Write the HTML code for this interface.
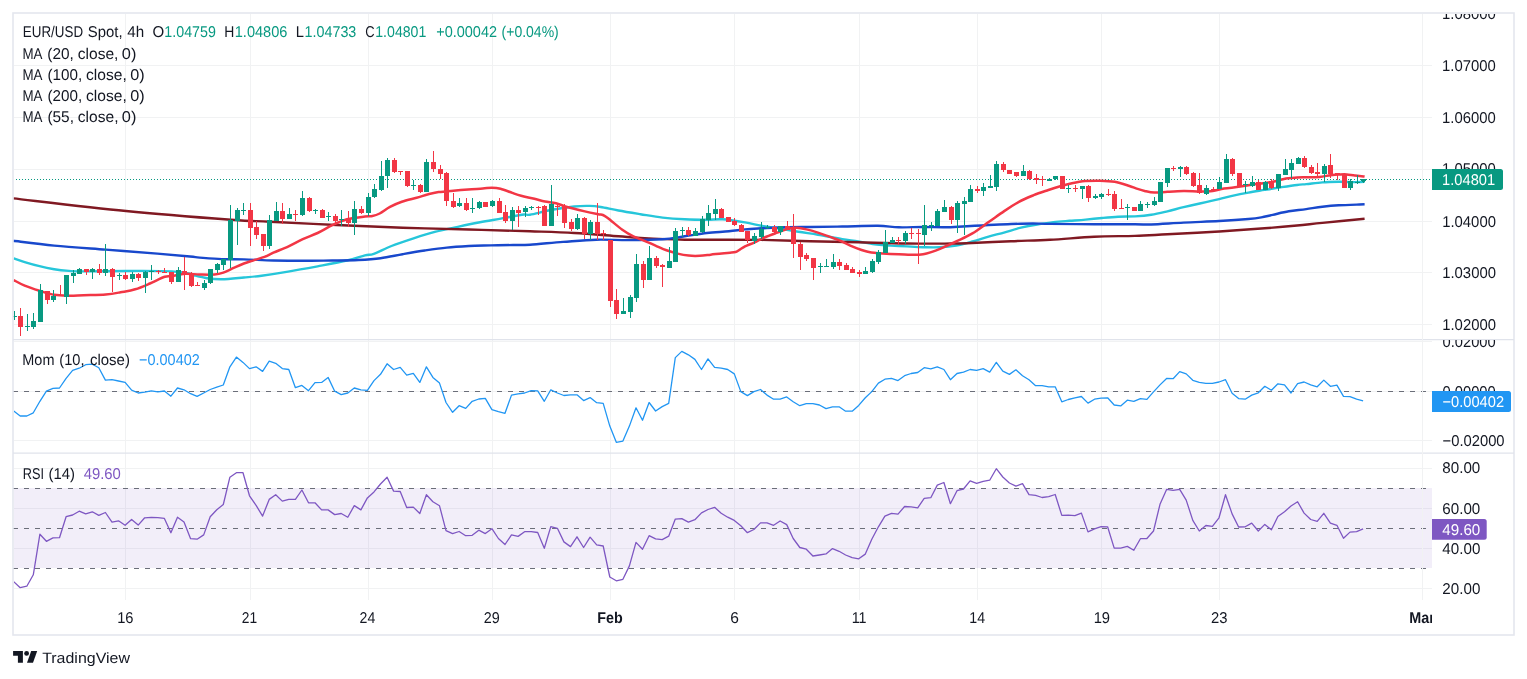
<!DOCTYPE html>
<html><head><meta charset="utf-8"><title>EUR/USD Spot 4h</title>
<style>html,body{margin:0;padding:0;background:#fff;}body{width:1527px;height:679px;overflow:hidden;position:relative;font-family:"Liberation Sans",sans-serif;}</style>
</head><body>
<svg width="1527" height="679" viewBox="0 0 1527 679" style="position:absolute;left:0;top:0;display:block;will-change:transform;opacity:0.9999">
<defs>
<clipPath id="cpMain"><rect x="13" y="14" width="1409.5" height="325.5"/></clipPath>
<clipPath id="cpMom"><rect x="14" y="340" width="1408.5" height="113"/></clipPath>
<clipPath id="cpRsi"><rect x="14" y="453.5" width="1408.5" height="146"/></clipPath>
<clipPath id="cpAx1"><rect x="1423" y="14" width="91" height="325.5"/></clipPath>
<clipPath id="cpAx2"><rect x="1423" y="340" width="91" height="113"/></clipPath>
<clipPath id="cpAx3"><rect x="1423" y="453.5" width="91" height="146"/></clipPath>
<clipPath id="cpTime"><rect x="14" y="600" width="1418" height="34"/></clipPath>
</defs>
<rect x="0" y="0" width="1527" height="679" fill="#ffffff"/>
<g stroke="#F1F2F3" stroke-width="1" shape-rendering="crispEdges">
<line x1="125.5" y1="14" x2="125.5" y2="599.5"/>
<line x1="250.5" y1="14" x2="250.5" y2="599.5"/>
<line x1="368.5" y1="14" x2="368.5" y2="599.5"/>
<line x1="492.5" y1="14" x2="492.5" y2="599.5"/>
<line x1="610.5" y1="14" x2="610.5" y2="599.5"/>
<line x1="734.5" y1="14" x2="734.5" y2="599.5"/>
<line x1="859.5" y1="14" x2="859.5" y2="599.5"/>
<line x1="977.5" y1="14" x2="977.5" y2="599.5"/>
<line x1="1101.5" y1="14" x2="1101.5" y2="599.5"/>
<line x1="1219.5" y1="14" x2="1219.5" y2="599.5"/>
<line x1="1422.5" y1="14" x2="1422.5" y2="599.5"/>
<line x1="14" y1="65.5" x2="1432" y2="65.5"/>
<line x1="14" y1="117.5" x2="1432" y2="117.5"/>
<line x1="14" y1="169.5" x2="1432" y2="169.5"/>
<line x1="14" y1="221.5" x2="1432" y2="221.5"/>
<line x1="14" y1="272.5" x2="1432" y2="272.5"/>
<line x1="14" y1="324.5" x2="1432" y2="324.5"/>
<line x1="14" y1="341.5" x2="1432" y2="341.5"/>
<line x1="14" y1="391.5" x2="1432" y2="391.5"/>
<line x1="14" y1="440.5" x2="1432" y2="440.5"/>
<line x1="14" y1="468.5" x2="1432" y2="468.5"/>
<line x1="14" y1="508.5" x2="1432" y2="508.5"/>
<line x1="14" y1="548.5" x2="1432" y2="548.5"/>
<line x1="14" y1="588.5" x2="1432" y2="588.5"/>
</g>
<rect x="14" y="488" width="1418" height="80" fill="#7E57C2" fill-opacity="0.1"/>
<g stroke="#6B6E79" stroke-width="1" stroke-dasharray="5 6" shape-rendering="crispEdges">
<line x1="13" y1="488.5" x2="1432" y2="488.5"/>
<line x1="13" y1="528.5" x2="1432" y2="528.5"/>
<line x1="13" y1="568.5" x2="1432" y2="568.5"/>
<line x1="13" y1="391.5" x2="1432" y2="391.5"/>
</g>
<line x1="16" y1="179.5" x2="1432" y2="179.5" stroke="#089981" stroke-width="1" stroke-dasharray="1 2"/>
<g clip-path="url(#cpMain)">
<path d="M13.7,258.4C15.5,259.0 20.4,260.8 24.7,262.1C29.0,263.4 34.6,265.0 39.5,266.2C44.4,267.4 49.3,268.4 54.2,269.2C59.1,270.0 64.0,270.5 68.9,270.9C73.8,271.3 77.6,271.3 83.7,271.4C89.8,271.4 95.9,271.3 105.7,271.2C115.5,271.1 131.5,270.9 142.6,270.9C153.7,270.9 164.1,270.9 172.0,271.4C179.9,271.9 186.4,273.1 190.0,273.8C193.6,274.5 191.0,274.6 193.8,275.3C196.7,276.0 202.4,277.5 207.1,278.2C211.8,278.9 215.7,279.4 221.8,279.3C227.9,279.2 237.3,278.1 243.9,277.5C250.5,276.9 254.2,276.7 261.6,275.7C269.0,274.7 278.8,273.2 288.1,271.6C297.4,270.1 307.8,268.2 317.6,266.4C327.4,264.5 339.1,262.3 347.0,260.5C354.9,258.7 360.5,256.5 365.0,255.4C369.5,254.3 369.4,255.4 373.8,253.8C378.2,252.2 384.9,248.6 391.5,246.0C398.1,243.4 406.2,240.7 413.6,238.3C421.0,235.9 428.3,233.6 435.7,231.7C443.1,229.8 450.4,228.4 457.8,226.8C465.2,225.2 472.6,223.6 480.0,222.2C487.4,220.8 494.7,219.7 502.0,218.4C509.3,217.1 519.3,215.1 524.0,214.5C528.7,213.9 525.3,215.5 530.0,214.7C534.7,213.9 544.6,211.2 552.0,209.8C559.4,208.4 567.9,207.2 574.2,206.5C580.5,205.8 585.3,205.8 589.7,205.9C594.1,206.0 595.9,206.2 600.7,207.0C605.5,207.8 611.8,209.3 618.4,210.5C625.0,211.7 633.1,213.0 640.5,214.2C647.9,215.4 655.2,216.8 662.6,217.6C670.0,218.4 677.3,218.9 684.7,219.3C692.1,219.7 700.5,219.8 706.8,219.8C713.0,219.8 715.8,218.9 722.2,219.3C728.6,219.7 738.5,221.3 745.0,222.4C751.5,223.5 755.8,224.8 761.2,225.8C766.6,226.8 771.2,227.3 777.4,228.3C783.6,229.3 791.6,230.7 798.4,231.8C805.1,232.9 810.6,233.5 817.9,234.7C825.2,235.9 835.5,238.0 842.2,239.1C849.0,240.2 853.0,240.6 858.4,241.5C863.8,242.4 869.2,243.6 874.6,244.3C880.0,245.0 885.3,245.2 890.7,245.6C896.1,245.9 901.6,246.1 907.0,246.4C912.4,246.7 917.6,247.1 923.1,247.2C928.6,247.3 934.5,247.5 940.0,247.2C945.5,246.9 950.8,246.4 956.2,245.5C961.6,244.6 967.0,243.0 972.4,241.5C977.8,240.0 983.2,238.1 988.6,236.6C994.0,235.1 999.4,233.8 1004.8,232.3C1010.2,230.8 1015.6,229.0 1021.0,227.7C1026.4,226.4 1031.8,225.4 1037.2,224.5C1042.6,223.6 1048.0,222.7 1053.4,222.1C1058.8,221.5 1064.2,221.2 1069.6,220.8C1075.0,220.4 1080.3,220.1 1085.7,219.6C1091.1,219.1 1096.6,218.5 1102.0,218.0C1107.4,217.5 1112.6,217.0 1118.1,216.7C1123.6,216.4 1129.5,216.7 1135.0,216.4C1140.5,216.1 1145.8,215.7 1151.2,214.8C1156.6,214.0 1162.0,212.6 1167.4,211.3C1172.8,210.0 1178.2,208.5 1183.6,207.2C1189.0,205.9 1193.9,204.8 1199.8,203.5C1205.7,202.2 1213.8,200.4 1219.2,199.1C1224.6,197.8 1227.3,197.0 1232.2,195.9C1237.1,194.8 1243.0,193.6 1248.4,192.6C1253.8,191.6 1259.2,190.8 1264.6,189.9C1270.0,189.0 1275.3,188.1 1280.7,187.3C1286.1,186.5 1292.8,185.5 1297.0,185.0C1301.2,184.5 1302.0,184.5 1306.2,184.1C1310.4,183.7 1317.0,182.8 1322.4,182.4C1327.8,182.0 1333.2,181.9 1338.6,181.8C1344.0,181.8 1350.5,182.1 1354.8,182.1C1359.1,182.1 1363.0,181.9 1364.6,181.8" fill="none" stroke="#26C6DA" stroke-width="2.4" stroke-linejoin="round" stroke-linecap="butt"/>
<path d="M13.3,198.4C32.1,200.5 89.7,207.4 126.0,211.0C162.3,214.6 207.0,218.0 231.0,219.8C255.0,221.6 252.4,220.8 270.0,221.7C287.6,222.6 314.2,224.0 336.3,225.0C358.4,226.0 380.5,226.9 402.6,227.7C424.7,228.4 447.7,228.9 468.9,229.5C490.1,230.1 512.5,230.7 530.0,231.3C547.5,231.9 559.5,232.2 574.2,233.0C588.9,233.8 607.4,235.5 618.4,236.3C629.4,237.1 629.5,237.3 640.5,237.9C651.5,238.5 670.0,239.4 684.7,239.7C699.4,240.0 716.1,239.7 728.9,239.7C741.6,239.7 747.7,239.7 761.2,239.9C774.7,240.2 793.6,240.8 809.8,241.2C826.0,241.6 842.2,241.9 858.4,242.3C874.6,242.7 892.6,243.3 907.0,243.5C921.4,243.7 935.0,243.7 945.0,243.6C955.0,243.5 955.8,243.6 966.8,243.2C977.8,242.8 997.1,241.8 1011.0,241.2C1024.9,240.6 1036.1,240.6 1050.0,239.8C1063.9,239.1 1080.0,237.3 1094.2,236.7C1108.4,236.0 1122.8,236.3 1135.0,235.9C1147.2,235.5 1153.4,235.0 1167.4,234.3C1181.4,233.6 1203.0,232.5 1219.2,231.5C1235.4,230.5 1251.6,229.3 1264.6,228.3C1277.6,227.3 1287.4,226.4 1297.0,225.5C1306.6,224.6 1311.1,224.0 1322.4,222.9C1333.7,221.8 1357.6,219.5 1364.6,218.8" fill="none" stroke="#801922" stroke-width="2.4" stroke-linejoin="round" stroke-linecap="butt"/>
<path d="M13.3,240.8C20.1,241.6 38.8,244.1 54.2,245.6C69.6,247.1 88.5,248.3 105.7,249.6C122.9,250.9 143.2,252.4 157.3,253.6C171.4,254.8 182.9,255.8 190.0,256.5C197.1,257.2 194.4,257.2 199.7,257.6C205.0,258.0 214.4,258.8 221.8,259.1C229.2,259.4 235.3,259.2 243.9,259.4C252.5,259.6 263.6,260.3 273.4,260.5C283.2,260.7 293.0,260.8 302.8,260.8C312.6,260.8 323.0,260.6 332.3,260.5C341.6,260.4 350.4,260.4 358.4,260.0C366.4,259.6 373.1,259.2 380.5,258.2C387.9,257.2 395.2,255.5 402.6,254.2C410.0,252.9 417.3,251.6 424.7,250.5C432.1,249.4 439.4,248.3 446.8,247.6C454.2,246.8 461.5,246.4 468.9,246.0C476.3,245.6 483.6,245.6 491.0,245.4C498.4,245.2 506.5,245.1 513.0,245.0C519.5,244.9 521.6,245.2 530.0,244.7C538.4,244.2 552.1,242.7 563.1,241.9C574.1,241.1 585.2,240.0 596.3,239.7C607.3,239.4 618.3,240.2 629.4,240.1C640.5,240.0 653.4,239.8 662.6,239.2C671.8,238.6 677.3,237.3 684.7,236.3C692.1,235.3 699.4,233.8 706.8,233.0C714.2,232.2 722.5,231.9 728.9,231.3C735.3,230.7 739.6,229.9 745.0,229.4C750.4,228.9 754.5,228.7 761.2,228.3C768.0,228.0 777.4,227.5 785.5,227.3C793.6,227.1 800.3,227.1 809.8,227.0C819.2,226.9 830.9,226.7 842.2,226.5C853.5,226.3 868.4,225.7 877.8,225.8C887.2,225.9 891.2,227.1 898.8,227.3C906.3,227.5 915.4,227.0 923.1,227.0C930.8,227.0 937.7,227.4 945.0,227.3C952.3,227.2 955.8,226.8 966.8,226.2C977.8,225.6 1000.0,224.4 1011.0,224.0C1022.0,223.6 1026.5,223.5 1033.0,223.5C1039.5,223.5 1039.8,223.8 1050.0,223.9C1060.2,224.0 1080.0,224.2 1094.2,224.3C1108.4,224.4 1125.5,224.2 1135.0,224.2C1144.5,224.2 1143.1,224.8 1151.2,224.5C1159.3,224.2 1172.3,223.2 1183.6,222.6C1194.9,222.0 1208.4,221.6 1219.2,221.0C1230.0,220.4 1241.4,219.6 1248.4,219.0C1255.4,218.4 1257.2,218.1 1261.3,217.4C1265.3,216.7 1268.1,215.8 1272.7,214.8C1277.3,213.8 1283.2,212.2 1288.8,211.3C1294.4,210.4 1300.6,209.9 1306.2,209.1C1311.8,208.3 1317.0,207.3 1322.4,206.7C1327.8,206.1 1331.6,205.7 1338.6,205.3C1345.6,204.9 1360.3,204.5 1364.6,204.3" fill="none" stroke="#1848CC" stroke-width="2.4" stroke-linejoin="round" stroke-linecap="butt"/>
<path d="M13.7,280.1C15.5,281.0 20.4,283.9 24.7,285.7C29.0,287.5 34.6,289.3 39.5,290.8C44.4,292.3 49.3,294.0 54.2,294.8C59.1,295.6 64.0,295.6 68.9,295.7C73.8,295.8 77.6,295.4 83.7,295.2C89.8,295.0 99.6,295.0 105.7,294.5C111.8,294.0 115.6,293.2 120.5,292.3C125.4,291.4 130.3,290.8 135.2,289.3C140.1,287.8 145.0,285.6 149.9,283.5C154.8,281.4 161.0,278.0 164.7,276.8C168.4,275.6 168.6,276.6 172.0,276.1C175.4,275.6 180.4,274.1 185.0,273.8C189.6,273.5 194.8,274.4 199.7,274.5C204.6,274.6 210.6,274.8 214.5,274.5C218.4,274.2 220.1,273.7 223.3,272.6C226.5,271.5 230.2,269.4 233.6,267.9C237.0,266.4 240.5,264.8 243.9,263.5C247.3,262.2 250.8,261.2 254.2,260.1C257.6,259.0 261.3,258.1 264.5,256.9C267.7,255.7 269.5,254.4 273.4,252.7C277.3,251.0 283.2,248.8 288.1,246.6C293.0,244.3 297.9,241.5 302.8,239.2C307.7,236.9 312.7,235.3 317.6,233.0C322.5,230.7 327.4,227.5 332.3,225.2C337.2,222.9 341.6,220.8 347.0,219.3C352.4,217.9 360.8,217.0 365.0,216.5C369.2,216.0 369.9,216.6 372.4,216.1C374.8,215.6 376.8,215.0 379.7,213.5C382.6,212.0 386.3,208.9 390.0,206.9C393.7,204.9 397.4,203.2 401.8,201.7C406.2,200.2 412.2,198.9 416.6,197.7C421.0,196.5 424.6,195.2 428.3,194.3C432.0,193.4 434.4,192.7 438.6,192.1C442.8,191.5 448.5,191.1 453.4,190.7C458.3,190.3 463.2,189.9 468.1,189.5C473.0,189.1 478.9,188.8 482.8,188.5C486.7,188.2 488.8,187.7 491.7,187.7C494.6,187.7 497.1,187.8 500.5,188.7C503.9,189.6 508.9,191.7 512.3,192.9C515.7,194.1 517.4,194.8 521.1,195.8C524.8,196.8 530.4,197.8 534.4,198.8C538.4,199.8 541.4,200.9 545.0,201.6C548.6,202.3 552.3,202.3 556.0,203.2C559.7,204.1 562.3,205.6 567.1,207.0C571.9,208.4 579.6,210.2 584.8,211.4C589.9,212.6 595.0,213.6 598.0,214.2C601.0,214.8 601.4,214.4 602.9,215.0C604.4,215.6 605.6,216.5 607.0,217.5C608.4,218.5 608.8,218.9 611.3,220.9C613.8,222.9 618.6,227.1 622.3,229.7C626.0,232.3 629.7,234.6 633.4,236.4C637.1,238.2 640.7,239.3 644.4,240.8C648.1,242.3 651.8,244.0 655.5,245.6C659.2,247.2 662.8,249.0 666.5,250.3C670.2,251.6 673.9,252.7 677.6,253.6C681.3,254.5 684.9,255.2 688.6,255.6C692.3,256.0 696.0,256.0 699.7,255.8C703.4,255.7 707.0,255.1 710.7,254.7C714.4,254.3 718.6,253.7 721.8,253.4C725.0,253.1 727.7,252.9 730.0,252.7C732.3,252.5 733.9,252.5 735.5,252.0C737.1,251.5 737.9,250.7 739.5,249.8C741.1,248.9 742.5,247.7 745.0,246.4C747.5,245.2 751.5,243.8 754.7,242.3C757.9,240.8 760.6,239.1 764.4,237.5C768.2,235.9 773.3,234.1 777.4,232.6C781.5,231.1 785.5,229.4 788.7,228.6C791.9,227.8 793.8,227.7 796.8,227.8C799.8,227.9 803.0,228.6 806.5,229.4C810.0,230.2 814.1,231.4 817.9,232.6C821.7,233.8 825.7,235.4 829.2,236.7C832.7,238.0 835.4,238.7 838.9,240.2C842.4,241.7 846.5,244.0 850.3,245.6C854.1,247.2 858.1,248.8 861.6,250.0C865.1,251.2 867.8,252.0 871.3,252.6C874.8,253.2 878.1,253.1 882.7,253.4C887.3,253.7 893.4,254.0 898.8,254.2C904.2,254.4 911.0,254.8 915.0,254.8C919.0,254.8 920.4,254.6 923.1,254.2C925.8,253.8 928.4,253.0 931.2,252.1C934.0,251.2 935.8,250.6 940.0,248.8C944.2,247.0 950.8,244.1 956.2,241.5C961.6,238.9 967.0,236.6 972.4,233.4C977.8,230.2 983.3,225.8 988.6,222.1C993.9,218.4 999.2,214.5 1004.2,211.1C1009.2,207.7 1014.0,204.6 1018.9,201.9C1023.8,199.2 1028.8,197.2 1033.7,195.2C1038.6,193.2 1044.0,191.5 1048.4,190.0C1052.8,188.5 1056.3,187.4 1060.2,186.3C1064.1,185.2 1067.7,184.2 1071.9,183.3C1076.1,182.4 1080.5,181.5 1085.2,181.1C1089.9,180.7 1095.0,180.6 1099.9,180.7C1104.8,180.8 1109.8,180.9 1114.7,181.8C1119.6,182.7 1125.9,184.9 1129.4,186.0C1133.0,187.1 1133.5,187.6 1136.0,188.4C1138.5,189.2 1141.6,190.3 1144.7,191.0C1147.8,191.7 1150.6,192.5 1154.4,192.6C1158.2,192.7 1162.5,192.1 1167.4,191.8C1172.3,191.5 1178.2,191.1 1183.6,191.0C1189.0,190.9 1194.9,191.5 1199.8,191.5C1204.7,191.5 1208.7,191.5 1212.7,191.0C1216.8,190.5 1219.5,189.3 1224.1,188.6C1228.7,187.9 1234.9,187.4 1240.3,186.6C1245.7,185.8 1251.1,184.8 1256.5,184.0C1261.9,183.2 1268.1,182.7 1272.7,181.8C1277.3,181.0 1280.0,179.6 1284.0,178.9C1288.0,178.2 1293.3,177.9 1297.0,177.6C1300.7,177.3 1302.5,177.4 1306.2,177.3C1309.9,177.2 1315.2,177.2 1319.2,176.9C1323.2,176.6 1327.3,175.6 1330.5,175.2C1333.7,174.8 1335.9,174.6 1338.6,174.5C1341.3,174.4 1344.0,174.2 1346.7,174.4C1349.4,174.6 1351.8,175.1 1354.8,175.4C1357.8,175.8 1363.0,176.3 1364.6,176.5" fill="none" stroke="#F23645" stroke-width="2.5" stroke-linejoin="round" stroke-linecap="butt"/>
<rect x="14" y="311" width="1" height="9" fill="#089981"/>
<rect x="12" y="316" width="5" height="1" fill="#089981"/>
<rect x="20" y="308" width="1" height="28" fill="#F23645"/>
<rect x="18" y="316" width="5" height="11" fill="#F23645"/>
<rect x="27" y="314" width="1" height="17" fill="#089981"/>
<rect x="25" y="326" width="5" height="1" fill="#089981"/>
<rect x="33" y="313" width="1" height="16" fill="#089981"/>
<rect x="31" y="321" width="5" height="6" fill="#089981"/>
<rect x="40" y="284" width="1" height="38" fill="#089981"/>
<rect x="38" y="290" width="5" height="32" fill="#089981"/>
<rect x="47" y="291" width="1" height="13" fill="#F23645"/>
<rect x="45" y="291" width="5" height="9" fill="#F23645"/>
<rect x="53" y="290" width="1" height="12" fill="#089981"/>
<rect x="51" y="296" width="5" height="4" fill="#089981"/>
<rect x="60" y="285" width="1" height="11" fill="#F23645"/>
<rect x="58" y="295" width="5" height="1" fill="#F23645"/>
<rect x="66" y="275" width="1" height="29" fill="#089981"/>
<rect x="64" y="275" width="5" height="22" fill="#089981"/>
<rect x="73" y="270" width="1" height="13" fill="#089981"/>
<rect x="71" y="273" width="5" height="3" fill="#089981"/>
<rect x="79" y="268" width="1" height="6" fill="#089981"/>
<rect x="77" y="269" width="5" height="5" fill="#089981"/>
<rect x="86" y="269" width="1" height="6" fill="#F23645"/>
<rect x="84" y="269" width="5" height="3" fill="#F23645"/>
<rect x="92" y="268" width="1" height="11" fill="#089981"/>
<rect x="90" y="269" width="5" height="3" fill="#089981"/>
<rect x="99" y="264" width="1" height="11" fill="#F23645"/>
<rect x="97" y="269" width="5" height="4" fill="#F23645"/>
<rect x="105" y="244" width="1" height="32" fill="#089981"/>
<rect x="103" y="269" width="5" height="4" fill="#089981"/>
<rect x="112" y="268" width="1" height="24" fill="#F23645"/>
<rect x="110" y="269" width="5" height="8" fill="#F23645"/>
<rect x="119" y="273" width="1" height="7" fill="#089981"/>
<rect x="117" y="275" width="5" height="1" fill="#089981"/>
<rect x="125" y="272" width="1" height="8" fill="#F23645"/>
<rect x="123" y="275" width="5" height="4" fill="#F23645"/>
<rect x="132" y="272" width="1" height="10" fill="#089981"/>
<rect x="130" y="274" width="5" height="5" fill="#089981"/>
<rect x="138" y="273" width="1" height="8" fill="#F23645"/>
<rect x="136" y="274" width="5" height="4" fill="#F23645"/>
<rect x="145" y="271" width="1" height="22" fill="#089981"/>
<rect x="143" y="272" width="5" height="6" fill="#089981"/>
<rect x="151" y="265" width="1" height="15" fill="#089981"/>
<rect x="149" y="271" width="5" height="1" fill="#089981"/>
<rect x="158" y="270" width="1" height="4" fill="#F23645"/>
<rect x="156" y="271" width="5" height="1" fill="#F23645"/>
<rect x="164" y="268" width="1" height="5" fill="#F23645"/>
<rect x="162" y="272" width="5" height="1" fill="#F23645"/>
<rect x="171" y="272" width="1" height="12" fill="#F23645"/>
<rect x="169" y="272" width="5" height="10" fill="#F23645"/>
<rect x="178" y="267" width="1" height="15" fill="#089981"/>
<rect x="176" y="270" width="5" height="12" fill="#089981"/>
<rect x="184" y="257" width="1" height="33" fill="#F23645"/>
<rect x="182" y="271" width="5" height="4" fill="#F23645"/>
<rect x="191" y="272" width="1" height="15" fill="#F23645"/>
<rect x="189" y="273" width="5" height="13" fill="#F23645"/>
<rect x="197" y="282" width="1" height="4" fill="#F23645"/>
<rect x="195" y="285" width="5" height="1" fill="#F23645"/>
<rect x="204" y="280" width="1" height="10" fill="#089981"/>
<rect x="202" y="283" width="5" height="5" fill="#089981"/>
<rect x="210" y="269" width="1" height="15" fill="#089981"/>
<rect x="208" y="269" width="5" height="14" fill="#089981"/>
<rect x="217" y="263" width="1" height="10" fill="#089981"/>
<rect x="215" y="264" width="5" height="6" fill="#089981"/>
<rect x="223" y="259" width="1" height="11" fill="#089981"/>
<rect x="221" y="259" width="5" height="6" fill="#089981"/>
<rect x="230" y="205" width="1" height="63" fill="#089981"/>
<rect x="228" y="220" width="5" height="40" fill="#089981"/>
<rect x="237" y="208" width="1" height="37" fill="#089981"/>
<rect x="235" y="210" width="5" height="11" fill="#089981"/>
<rect x="243" y="203" width="1" height="12" fill="#089981"/>
<rect x="241" y="210" width="5" height="1" fill="#089981"/>
<rect x="250" y="203" width="1" height="43" fill="#F23645"/>
<rect x="248" y="210" width="5" height="18" fill="#F23645"/>
<rect x="256" y="221" width="1" height="18" fill="#F23645"/>
<rect x="254" y="227" width="5" height="8" fill="#F23645"/>
<rect x="263" y="234" width="1" height="17" fill="#F23645"/>
<rect x="261" y="234" width="5" height="12" fill="#F23645"/>
<rect x="269" y="215" width="1" height="34" fill="#089981"/>
<rect x="267" y="220" width="5" height="26" fill="#089981"/>
<rect x="276" y="202" width="1" height="19" fill="#089981"/>
<rect x="274" y="211" width="5" height="10" fill="#089981"/>
<rect x="282" y="203" width="1" height="21" fill="#F23645"/>
<rect x="280" y="211" width="5" height="8" fill="#F23645"/>
<rect x="289" y="208" width="1" height="11" fill="#089981"/>
<rect x="287" y="214" width="5" height="5" fill="#089981"/>
<rect x="295" y="210" width="1" height="11" fill="#F23645"/>
<rect x="293" y="214" width="5" height="1" fill="#F23645"/>
<rect x="302" y="191" width="1" height="25" fill="#089981"/>
<rect x="300" y="198" width="5" height="17" fill="#089981"/>
<rect x="309" y="197" width="1" height="15" fill="#F23645"/>
<rect x="307" y="198" width="5" height="13" fill="#F23645"/>
<rect x="315" y="209" width="1" height="5" fill="#089981"/>
<rect x="313" y="210" width="5" height="1" fill="#089981"/>
<rect x="322" y="209" width="1" height="9" fill="#F23645"/>
<rect x="320" y="210" width="5" height="8" fill="#F23645"/>
<rect x="328" y="212" width="1" height="9" fill="#089981"/>
<rect x="326" y="216" width="5" height="1" fill="#089981"/>
<rect x="335" y="214" width="1" height="11" fill="#F23645"/>
<rect x="333" y="216" width="5" height="5" fill="#F23645"/>
<rect x="341" y="210" width="1" height="16" fill="#089981"/>
<rect x="339" y="219" width="5" height="1" fill="#089981"/>
<rect x="348" y="211" width="1" height="16" fill="#F23645"/>
<rect x="346" y="219" width="5" height="4" fill="#F23645"/>
<rect x="354" y="201" width="1" height="34" fill="#089981"/>
<rect x="352" y="209" width="5" height="14" fill="#089981"/>
<rect x="361" y="206" width="1" height="8" fill="#F23645"/>
<rect x="359" y="209" width="5" height="4" fill="#F23645"/>
<rect x="368" y="193" width="1" height="23" fill="#089981"/>
<rect x="366" y="197" width="5" height="16" fill="#089981"/>
<rect x="374" y="184" width="1" height="14" fill="#089981"/>
<rect x="372" y="189" width="5" height="8" fill="#089981"/>
<rect x="381" y="161" width="1" height="30" fill="#089981"/>
<rect x="379" y="176" width="5" height="14" fill="#089981"/>
<rect x="387" y="158" width="1" height="30" fill="#089981"/>
<rect x="385" y="160" width="5" height="16" fill="#089981"/>
<rect x="394" y="158" width="1" height="15" fill="#F23645"/>
<rect x="392" y="160" width="5" height="12" fill="#F23645"/>
<rect x="400" y="171" width="1" height="4" fill="#F23645"/>
<rect x="398" y="171" width="5" height="1" fill="#F23645"/>
<rect x="407" y="171" width="1" height="16" fill="#F23645"/>
<rect x="405" y="171" width="5" height="15" fill="#F23645"/>
<rect x="413" y="180" width="1" height="10" fill="#089981"/>
<rect x="411" y="185" width="5" height="1" fill="#089981"/>
<rect x="420" y="184" width="1" height="9" fill="#F23645"/>
<rect x="418" y="185" width="5" height="7" fill="#F23645"/>
<rect x="426" y="159" width="1" height="33" fill="#089981"/>
<rect x="424" y="162" width="5" height="30" fill="#089981"/>
<rect x="433" y="151" width="1" height="21" fill="#F23645"/>
<rect x="431" y="162" width="5" height="7" fill="#F23645"/>
<rect x="440" y="165" width="1" height="14" fill="#F23645"/>
<rect x="438" y="169" width="5" height="5" fill="#F23645"/>
<rect x="446" y="172" width="1" height="34" fill="#F23645"/>
<rect x="444" y="173" width="5" height="28" fill="#F23645"/>
<rect x="453" y="193" width="1" height="15" fill="#F23645"/>
<rect x="451" y="201" width="5" height="6" fill="#F23645"/>
<rect x="459" y="198" width="1" height="9" fill="#089981"/>
<rect x="457" y="203" width="5" height="3" fill="#089981"/>
<rect x="466" y="198" width="1" height="13" fill="#F23645"/>
<rect x="464" y="203" width="5" height="7" fill="#F23645"/>
<rect x="472" y="198" width="1" height="15" fill="#089981"/>
<rect x="470" y="208" width="5" height="1" fill="#089981"/>
<rect x="479" y="201" width="1" height="8" fill="#089981"/>
<rect x="477" y="202" width="5" height="6" fill="#089981"/>
<rect x="485" y="202" width="1" height="5" fill="#F23645"/>
<rect x="483" y="202" width="5" height="5" fill="#F23645"/>
<rect x="492" y="200" width="1" height="7" fill="#089981"/>
<rect x="490" y="201" width="5" height="5" fill="#089981"/>
<rect x="499" y="198" width="1" height="15" fill="#F23645"/>
<rect x="497" y="201" width="5" height="12" fill="#F23645"/>
<rect x="505" y="205" width="1" height="18" fill="#F23645"/>
<rect x="503" y="212" width="5" height="9" fill="#F23645"/>
<rect x="512" y="207" width="1" height="23" fill="#089981"/>
<rect x="510" y="210" width="5" height="11" fill="#089981"/>
<rect x="518" y="206" width="1" height="21" fill="#F23645"/>
<rect x="516" y="210" width="5" height="3" fill="#F23645"/>
<rect x="525" y="206" width="1" height="11" fill="#089981"/>
<rect x="523" y="208" width="5" height="4" fill="#089981"/>
<rect x="531" y="206" width="1" height="4" fill="#089981"/>
<rect x="529" y="207" width="5" height="1" fill="#089981"/>
<rect x="538" y="206" width="1" height="9" fill="#F23645"/>
<rect x="536" y="207" width="5" height="1" fill="#F23645"/>
<rect x="544" y="205" width="1" height="21" fill="#F23645"/>
<rect x="542" y="206" width="5" height="20" fill="#F23645"/>
<rect x="551" y="185" width="1" height="41" fill="#089981"/>
<rect x="549" y="204" width="5" height="22" fill="#089981"/>
<rect x="557" y="204" width="1" height="12" fill="#F23645"/>
<rect x="555" y="206" width="5" height="1" fill="#F23645"/>
<rect x="564" y="204" width="1" height="24" fill="#F23645"/>
<rect x="562" y="206" width="5" height="17" fill="#F23645"/>
<rect x="571" y="219" width="1" height="12" fill="#F23645"/>
<rect x="569" y="222" width="5" height="7" fill="#F23645"/>
<rect x="577" y="214" width="1" height="16" fill="#089981"/>
<rect x="575" y="218" width="5" height="11" fill="#089981"/>
<rect x="584" y="217" width="1" height="22" fill="#F23645"/>
<rect x="582" y="218" width="5" height="16" fill="#F23645"/>
<rect x="590" y="220" width="1" height="20" fill="#089981"/>
<rect x="588" y="222" width="5" height="12" fill="#089981"/>
<rect x="597" y="203" width="1" height="37" fill="#F23645"/>
<rect x="595" y="222" width="5" height="12" fill="#F23645"/>
<rect x="603" y="230" width="1" height="10" fill="#F23645"/>
<rect x="601" y="233" width="5" height="1" fill="#F23645"/>
<rect x="610" y="240" width="1" height="67" fill="#F23645"/>
<rect x="608" y="240" width="5" height="61" fill="#F23645"/>
<rect x="616" y="289" width="1" height="30" fill="#F23645"/>
<rect x="614" y="300" width="5" height="14" fill="#F23645"/>
<rect x="623" y="298" width="1" height="16" fill="#089981"/>
<rect x="621" y="311" width="5" height="3" fill="#089981"/>
<rect x="630" y="295" width="1" height="23" fill="#089981"/>
<rect x="628" y="297" width="5" height="15" fill="#089981"/>
<rect x="636" y="254" width="1" height="48" fill="#089981"/>
<rect x="634" y="264" width="5" height="34" fill="#089981"/>
<rect x="643" y="261" width="1" height="27" fill="#F23645"/>
<rect x="641" y="264" width="5" height="16" fill="#F23645"/>
<rect x="649" y="246" width="1" height="34" fill="#089981"/>
<rect x="647" y="258" width="5" height="22" fill="#089981"/>
<rect x="656" y="256" width="1" height="12" fill="#F23645"/>
<rect x="654" y="258" width="5" height="8" fill="#F23645"/>
<rect x="662" y="264" width="1" height="23" fill="#F23645"/>
<rect x="660" y="265" width="5" height="2" fill="#F23645"/>
<rect x="669" y="247" width="1" height="21" fill="#089981"/>
<rect x="667" y="261" width="5" height="7" fill="#089981"/>
<rect x="675" y="228" width="1" height="34" fill="#089981"/>
<rect x="673" y="231" width="5" height="31" fill="#089981"/>
<rect x="682" y="227" width="1" height="10" fill="#089981"/>
<rect x="680" y="230" width="5" height="1" fill="#089981"/>
<rect x="688" y="227" width="1" height="9" fill="#F23645"/>
<rect x="686" y="230" width="5" height="5" fill="#F23645"/>
<rect x="695" y="228" width="1" height="8" fill="#089981"/>
<rect x="693" y="231" width="5" height="5" fill="#089981"/>
<rect x="702" y="216" width="1" height="17" fill="#089981"/>
<rect x="700" y="219" width="5" height="13" fill="#089981"/>
<rect x="708" y="205" width="1" height="21" fill="#089981"/>
<rect x="706" y="213" width="5" height="7" fill="#089981"/>
<rect x="715" y="199" width="1" height="21" fill="#089981"/>
<rect x="713" y="209" width="5" height="5" fill="#089981"/>
<rect x="721" y="208" width="1" height="10" fill="#F23645"/>
<rect x="719" y="209" width="5" height="9" fill="#F23645"/>
<rect x="728" y="217" width="1" height="5" fill="#F23645"/>
<rect x="726" y="217" width="5" height="5" fill="#F23645"/>
<rect x="734" y="218" width="1" height="8" fill="#F23645"/>
<rect x="732" y="221" width="5" height="4" fill="#F23645"/>
<rect x="741" y="224" width="1" height="8" fill="#F23645"/>
<rect x="739" y="225" width="5" height="7" fill="#F23645"/>
<rect x="747" y="231" width="1" height="12" fill="#F23645"/>
<rect x="745" y="231" width="5" height="9" fill="#F23645"/>
<rect x="754" y="233" width="1" height="11" fill="#089981"/>
<rect x="752" y="236" width="5" height="5" fill="#089981"/>
<rect x="761" y="222" width="1" height="17" fill="#089981"/>
<rect x="759" y="229" width="5" height="8" fill="#089981"/>
<rect x="767" y="225" width="1" height="4" fill="#089981"/>
<rect x="765" y="227" width="5" height="1" fill="#089981"/>
<rect x="774" y="225" width="1" height="8" fill="#F23645"/>
<rect x="772" y="227" width="5" height="5" fill="#F23645"/>
<rect x="780" y="226" width="1" height="9" fill="#089981"/>
<rect x="778" y="226" width="5" height="6" fill="#089981"/>
<rect x="787" y="221" width="1" height="9" fill="#F23645"/>
<rect x="785" y="226" width="5" height="4" fill="#F23645"/>
<rect x="793" y="214" width="1" height="44" fill="#F23645"/>
<rect x="791" y="229" width="5" height="15" fill="#F23645"/>
<rect x="800" y="242" width="1" height="28" fill="#F23645"/>
<rect x="798" y="244" width="5" height="13" fill="#F23645"/>
<rect x="806" y="253" width="1" height="8" fill="#F23645"/>
<rect x="804" y="255" width="5" height="4" fill="#F23645"/>
<rect x="813" y="258" width="1" height="22" fill="#F23645"/>
<rect x="811" y="258" width="5" height="10" fill="#F23645"/>
<rect x="820" y="263" width="1" height="10" fill="#089981"/>
<rect x="818" y="266" width="5" height="1" fill="#089981"/>
<rect x="826" y="259" width="1" height="8" fill="#089981"/>
<rect x="824" y="266" width="5" height="1" fill="#089981"/>
<rect x="833" y="254" width="1" height="15" fill="#089981"/>
<rect x="831" y="262" width="5" height="5" fill="#089981"/>
<rect x="839" y="259" width="1" height="11" fill="#F23645"/>
<rect x="837" y="262" width="5" height="4" fill="#F23645"/>
<rect x="846" y="263" width="1" height="7" fill="#F23645"/>
<rect x="844" y="265" width="5" height="5" fill="#F23645"/>
<rect x="852" y="267" width="1" height="6" fill="#F23645"/>
<rect x="850" y="269" width="5" height="4" fill="#F23645"/>
<rect x="859" y="270" width="1" height="7" fill="#F23645"/>
<rect x="857" y="272" width="5" height="2" fill="#F23645"/>
<rect x="865" y="267" width="1" height="7" fill="#089981"/>
<rect x="863" y="271" width="5" height="3" fill="#089981"/>
<rect x="872" y="259" width="1" height="14" fill="#089981"/>
<rect x="870" y="261" width="5" height="11" fill="#089981"/>
<rect x="878" y="250" width="1" height="14" fill="#089981"/>
<rect x="876" y="252" width="5" height="10" fill="#089981"/>
<rect x="885" y="230" width="1" height="23" fill="#089981"/>
<rect x="883" y="242" width="5" height="11" fill="#089981"/>
<rect x="892" y="237" width="1" height="6" fill="#089981"/>
<rect x="890" y="240" width="5" height="3" fill="#089981"/>
<rect x="898" y="237" width="1" height="8" fill="#F23645"/>
<rect x="896" y="240" width="5" height="1" fill="#F23645"/>
<rect x="905" y="231" width="1" height="13" fill="#089981"/>
<rect x="903" y="233" width="5" height="8" fill="#089981"/>
<rect x="911" y="228" width="1" height="11" fill="#F23645"/>
<rect x="909" y="233" width="5" height="1" fill="#F23645"/>
<rect x="918" y="229" width="1" height="35" fill="#F23645"/>
<rect x="916" y="233" width="5" height="1" fill="#F23645"/>
<rect x="924" y="205" width="1" height="41" fill="#089981"/>
<rect x="922" y="225" width="5" height="10" fill="#089981"/>
<rect x="931" y="222" width="1" height="9" fill="#089981"/>
<rect x="929" y="225" width="5" height="1" fill="#089981"/>
<rect x="937" y="209" width="1" height="17" fill="#089981"/>
<rect x="935" y="211" width="5" height="15" fill="#089981"/>
<rect x="944" y="200" width="1" height="12" fill="#089981"/>
<rect x="942" y="207" width="5" height="5" fill="#089981"/>
<rect x="951" y="206" width="1" height="18" fill="#F23645"/>
<rect x="949" y="207" width="5" height="13" fill="#F23645"/>
<rect x="957" y="201" width="1" height="32" fill="#089981"/>
<rect x="955" y="203" width="5" height="17" fill="#089981"/>
<rect x="964" y="197" width="1" height="38" fill="#089981"/>
<rect x="962" y="201" width="5" height="3" fill="#089981"/>
<rect x="970" y="185" width="1" height="17" fill="#089981"/>
<rect x="968" y="189" width="5" height="13" fill="#089981"/>
<rect x="977" y="186" width="1" height="7" fill="#F23645"/>
<rect x="975" y="189" width="5" height="2" fill="#F23645"/>
<rect x="983" y="183" width="1" height="13" fill="#089981"/>
<rect x="981" y="187" width="5" height="4" fill="#089981"/>
<rect x="990" y="175" width="1" height="13" fill="#089981"/>
<rect x="988" y="186" width="5" height="2" fill="#089981"/>
<rect x="996" y="161" width="1" height="30" fill="#089981"/>
<rect x="994" y="164" width="5" height="23" fill="#089981"/>
<rect x="1003" y="162" width="1" height="10" fill="#F23645"/>
<rect x="1001" y="164" width="5" height="6" fill="#F23645"/>
<rect x="1009" y="170" width="1" height="4" fill="#F23645"/>
<rect x="1007" y="170" width="5" height="4" fill="#F23645"/>
<rect x="1016" y="172" width="1" height="5" fill="#F23645"/>
<rect x="1014" y="172" width="5" height="4" fill="#F23645"/>
<rect x="1023" y="165" width="1" height="11" fill="#089981"/>
<rect x="1021" y="171" width="5" height="5" fill="#089981"/>
<rect x="1029" y="170" width="1" height="10" fill="#F23645"/>
<rect x="1027" y="171" width="5" height="8" fill="#F23645"/>
<rect x="1036" y="174" width="1" height="10" fill="#F23645"/>
<rect x="1034" y="178" width="5" height="2" fill="#F23645"/>
<rect x="1042" y="176" width="1" height="10" fill="#F23645"/>
<rect x="1040" y="179" width="5" height="1" fill="#F23645"/>
<rect x="1049" y="178" width="1" height="3" fill="#089981"/>
<rect x="1047" y="179" width="5" height="2" fill="#089981"/>
<rect x="1055" y="176" width="1" height="4" fill="#089981"/>
<rect x="1053" y="176" width="5" height="3" fill="#089981"/>
<rect x="1062" y="176" width="1" height="13" fill="#F23645"/>
<rect x="1060" y="176" width="5" height="13" fill="#F23645"/>
<rect x="1068" y="185" width="1" height="8" fill="#089981"/>
<rect x="1066" y="188" width="5" height="1" fill="#089981"/>
<rect x="1075" y="185" width="1" height="7" fill="#F23645"/>
<rect x="1073" y="188" width="5" height="1" fill="#F23645"/>
<rect x="1082" y="186" width="1" height="13" fill="#089981"/>
<rect x="1080" y="186" width="5" height="3" fill="#089981"/>
<rect x="1088" y="185" width="1" height="17" fill="#F23645"/>
<rect x="1086" y="186" width="5" height="12" fill="#F23645"/>
<rect x="1095" y="194" width="1" height="5" fill="#089981"/>
<rect x="1093" y="196" width="5" height="2" fill="#089981"/>
<rect x="1101" y="193" width="1" height="6" fill="#089981"/>
<rect x="1099" y="194" width="5" height="3" fill="#089981"/>
<rect x="1108" y="189" width="1" height="7" fill="#F23645"/>
<rect x="1106" y="194" width="5" height="1" fill="#F23645"/>
<rect x="1114" y="191" width="1" height="20" fill="#F23645"/>
<rect x="1112" y="194" width="5" height="15" fill="#F23645"/>
<rect x="1121" y="199" width="1" height="10" fill="#F23645"/>
<rect x="1119" y="208" width="5" height="1" fill="#F23645"/>
<rect x="1127" y="204" width="1" height="16" fill="#089981"/>
<rect x="1125" y="207" width="5" height="1" fill="#089981"/>
<rect x="1134" y="207" width="1" height="4" fill="#F23645"/>
<rect x="1132" y="207" width="5" height="4" fill="#F23645"/>
<rect x="1140" y="201" width="1" height="10" fill="#089981"/>
<rect x="1138" y="204" width="5" height="7" fill="#089981"/>
<rect x="1147" y="202" width="1" height="6" fill="#089981"/>
<rect x="1145" y="204" width="5" height="1" fill="#089981"/>
<rect x="1154" y="197" width="1" height="9" fill="#089981"/>
<rect x="1152" y="201" width="5" height="4" fill="#089981"/>
<rect x="1160" y="182" width="1" height="20" fill="#089981"/>
<rect x="1158" y="182" width="5" height="20" fill="#089981"/>
<rect x="1167" y="168" width="1" height="19" fill="#089981"/>
<rect x="1165" y="168" width="5" height="15" fill="#089981"/>
<rect x="1173" y="166" width="1" height="5" fill="#F23645"/>
<rect x="1171" y="168" width="5" height="1" fill="#F23645"/>
<rect x="1180" y="166" width="1" height="11" fill="#089981"/>
<rect x="1178" y="167" width="5" height="2" fill="#089981"/>
<rect x="1186" y="166" width="1" height="9" fill="#F23645"/>
<rect x="1184" y="167" width="5" height="7" fill="#F23645"/>
<rect x="1193" y="172" width="1" height="15" fill="#F23645"/>
<rect x="1191" y="173" width="5" height="13" fill="#F23645"/>
<rect x="1199" y="173" width="1" height="21" fill="#F23645"/>
<rect x="1197" y="185" width="5" height="8" fill="#F23645"/>
<rect x="1206" y="185" width="1" height="10" fill="#089981"/>
<rect x="1204" y="188" width="5" height="6" fill="#089981"/>
<rect x="1213" y="187" width="1" height="4" fill="#F23645"/>
<rect x="1211" y="189" width="5" height="1" fill="#F23645"/>
<rect x="1219" y="177" width="1" height="12" fill="#089981"/>
<rect x="1217" y="182" width="5" height="7" fill="#089981"/>
<rect x="1226" y="154" width="1" height="29" fill="#089981"/>
<rect x="1224" y="159" width="5" height="24" fill="#089981"/>
<rect x="1232" y="158" width="1" height="18" fill="#F23645"/>
<rect x="1230" y="159" width="5" height="15" fill="#F23645"/>
<rect x="1239" y="173" width="1" height="14" fill="#F23645"/>
<rect x="1237" y="173" width="5" height="13" fill="#F23645"/>
<rect x="1245" y="181" width="1" height="12" fill="#089981"/>
<rect x="1243" y="184" width="5" height="1" fill="#089981"/>
<rect x="1252" y="176" width="1" height="11" fill="#089981"/>
<rect x="1250" y="182" width="5" height="4" fill="#089981"/>
<rect x="1258" y="180" width="1" height="10" fill="#F23645"/>
<rect x="1256" y="182" width="5" height="8" fill="#F23645"/>
<rect x="1265" y="181" width="1" height="9" fill="#089981"/>
<rect x="1263" y="182" width="5" height="8" fill="#089981"/>
<rect x="1271" y="179" width="1" height="10" fill="#F23645"/>
<rect x="1269" y="181" width="5" height="7" fill="#F23645"/>
<rect x="1278" y="174" width="1" height="17" fill="#089981"/>
<rect x="1276" y="174" width="5" height="14" fill="#089981"/>
<rect x="1285" y="159" width="1" height="16" fill="#089981"/>
<rect x="1283" y="169" width="5" height="6" fill="#089981"/>
<rect x="1291" y="159" width="1" height="19" fill="#089981"/>
<rect x="1289" y="163" width="5" height="7" fill="#089981"/>
<rect x="1298" y="157" width="1" height="7" fill="#089981"/>
<rect x="1296" y="158" width="5" height="6" fill="#089981"/>
<rect x="1304" y="156" width="1" height="12" fill="#F23645"/>
<rect x="1302" y="158" width="5" height="9" fill="#F23645"/>
<rect x="1311" y="165" width="1" height="9" fill="#F23645"/>
<rect x="1309" y="167" width="5" height="6" fill="#F23645"/>
<rect x="1317" y="163" width="1" height="13" fill="#F23645"/>
<rect x="1315" y="172" width="5" height="2" fill="#F23645"/>
<rect x="1324" y="164" width="1" height="18" fill="#089981"/>
<rect x="1322" y="166" width="5" height="8" fill="#089981"/>
<rect x="1330" y="154" width="1" height="24" fill="#F23645"/>
<rect x="1328" y="165" width="5" height="9" fill="#F23645"/>
<rect x="1337" y="173" width="1" height="7" fill="#F23645"/>
<rect x="1335" y="173" width="5" height="1" fill="#F23645"/>
<rect x="1344" y="175" width="1" height="13" fill="#F23645"/>
<rect x="1342" y="175" width="5" height="13" fill="#F23645"/>
<rect x="1350" y="179" width="1" height="11" fill="#089981"/>
<rect x="1348" y="181" width="5" height="7" fill="#089981"/>
<rect x="1357" y="175" width="1" height="9" fill="#089981"/>
<rect x="1355" y="182" width="5" height="1" fill="#089981"/>
<rect x="1363" y="179" width="1" height="4" fill="#089981"/>
<rect x="1361" y="179" width="5" height="2" fill="#089981"/>
<rect x="1362" y="181" width="3" height="1" fill="#089981"/>
</g>
<g clip-path="url(#cpMom)">
<polyline points="13.7,411.0 20.2,416.0 26.8,416.0 33.3,412.8 39.9,401.3 46.4,391.2 53.0,388.4 59.5,388.0 66.1,378.3 72.6,370.4 79.2,368.2 85.7,364.7 92.3,364.2 98.8,367.7 105.4,380.1 112.0,379.7 118.5,381.0 125.1,382.4 131.6,390.2 138.2,393.0 144.7,392.1 151.3,390.9 157.8,391.8 164.4,391.0 170.9,396.2 177.5,388.0 184.0,389.8 190.6,393.7 197.1,396.4 203.7,393.0 210.2,389.5 216.8,387.2 223.3,385.0 229.9,366.8 236.4,357.1 243.0,362.4 249.5,368.6 256.1,366.8 262.6,371.4 269.2,361.2 275.7,363.3 282.3,368.6 288.8,369.5 295.4,387.7 301.9,385.4 308.5,390.7 315.0,382.7 321.6,382.4 328.1,377.4 334.7,391.2 341.2,394.6 347.8,393.0 354.3,388.0 360.9,389.8 367.4,390.3 374.0,380.6 380.5,374.3 387.1,363.8 393.6,369.5 400.2,367.4 406.7,375.1 413.3,373.4 419.8,382.4 426.4,366.8 432.9,377.4 439.5,383.1 446.0,402.5 452.6,412.3 459.1,405.7 465.7,408.4 472.2,401.3 478.8,399.0 485.3,398.3 491.9,409.6 498.4,411.6 505.0,413.3 511.5,395.1 518.1,393.9 524.6,393.0 531.2,390.7 537.7,390.9 544.3,401.3 550.8,389.8 557.4,393.0 563.9,395.5 570.5,394.8 577.0,394.8 583.6,400.6 590.1,397.6 596.7,402.7 603.2,403.4 609.8,426.1 616.3,442.3 622.9,441.1 629.4,426.1 636.0,407.8 642.5,420.2 649.1,402.5 655.6,411.0 662.2,406.6 668.7,403.4 675.3,357.6 681.8,351.4 688.4,354.8 694.9,359.4 701.5,369.5 708.0,358.9 714.6,367.4 721.2,368.1 727.7,369.5 734.3,373.9 740.8,391.6 747.4,395.6 753.9,391.6 760.5,389.5 767.0,395.1 773.6,399.2 780.1,399.2 786.7,396.9 793.2,401.8 799.8,405.7 806.3,403.6 812.9,403.6 819.4,405.0 826.0,408.6 832.5,406.8 839.1,406.8 845.6,411.2 852.2,411.2 858.7,405.4 865.3,397.8 871.8,391.6 878.4,383.1 884.9,379.2 891.5,378.3 898.0,380.6 904.6,375.7 911.1,373.5 917.7,372.5 924.2,367.7 930.8,368.9 937.3,366.8 943.9,369.5 950.4,379.7 957.0,373.5 963.5,372.1 970.1,369.5 976.6,370.4 983.2,368.6 989.7,372.1 996.3,362.4 1002.8,371.2 1009.4,374.4 1015.9,369.8 1022.5,375.7 1029.0,379.7 1035.6,385.7 1042.1,385.7 1048.7,386.8 1055.2,386.8 1061.8,401.8 1068.3,399.5 1074.9,397.9 1081.4,396.5 1088.0,403.1 1094.5,399.2 1101.1,398.1 1107.6,397.8 1114.2,405.0 1120.7,405.9 1127.3,400.2 1133.8,401.3 1140.4,398.6 1146.9,399.4 1153.5,391.9 1160.0,384.9 1166.6,378.5 1173.1,378.7 1179.7,371.6 1186.2,373.9 1192.8,380.3 1199.3,382.4 1205.9,383.3 1212.4,383.3 1219.0,382.0 1225.5,379.7 1232.1,393.3 1238.6,398.6 1245.2,399.2 1251.7,395.1 1258.3,392.8 1264.8,386.3 1271.4,390.2 1277.9,383.8 1284.5,384.9 1291.0,393.0 1297.6,383.6 1304.1,382.0 1310.7,384.9 1317.2,386.8 1323.8,380.1 1330.4,386.3 1336.9,385.1 1343.5,396.4 1350.0,396.6 1356.6,399.1 1363.1,400.9" fill="none" stroke="#2196F3" stroke-width="1.3" stroke-linejoin="round"/>
</g>
<g clip-path="url(#cpRsi)">
<polyline points="13.7,581.7 20.2,587.7 26.8,586.2 33.3,574.8 39.9,534.2 46.4,541.3 53.0,537.9 59.5,537.7 66.1,516.7 72.6,515.0 79.2,511.2 85.7,513.9 92.3,511.8 98.8,515.4 105.4,512.5 112.0,522.1 118.5,520.8 125.1,525.3 131.6,519.5 138.2,525.1 144.7,517.8 151.3,517.4 157.8,517.6 164.4,518.4 170.9,532.7 177.5,517.2 184.0,522.1 190.6,538.7 197.1,539.2 203.7,534.9 210.2,516.7 216.8,509.7 223.3,504.5 229.9,477.2 236.4,472.7 243.0,472.7 249.5,495.8 256.1,505.4 262.6,516.1 269.2,499.4 275.7,494.7 282.3,501.1 288.8,499.4 295.4,499.4 301.9,490.0 308.5,502.8 315.0,502.8 321.6,509.9 328.1,509.9 334.7,514.6 341.2,513.5 347.8,517.2 354.3,505.6 360.9,509.9 367.4,497.9 374.0,491.9 380.5,484.0 387.1,477.2 393.6,491.1 400.2,491.5 406.7,507.5 413.3,507.1 419.8,513.5 426.4,494.7 432.9,501.8 439.5,505.8 446.0,530.6 452.6,533.6 459.1,531.5 465.7,535.7 472.2,535.3 478.8,530.2 485.3,533.6 491.9,528.7 498.4,538.5 505.0,544.5 511.5,534.9 518.1,536.4 524.6,531.7 531.2,531.7 537.7,532.5 544.3,548.3 550.8,526.6 557.4,528.3 563.9,541.9 570.5,546.6 577.0,536.8 583.6,547.5 590.1,537.2 596.7,544.9 603.2,546.0 609.8,577.0 616.3,580.8 622.9,579.3 629.4,565.9 636.0,542.4 642.5,549.2 649.1,535.7 655.6,538.9 662.2,539.6 668.7,536.2 675.3,519.1 681.8,518.6 688.4,522.1 694.9,519.7 701.5,512.9 708.0,509.5 714.6,507.3 721.2,513.3 727.7,517.2 734.3,520.4 740.8,525.7 747.4,532.7 753.9,529.5 760.5,522.9 767.0,522.9 773.6,525.3 780.1,521.0 786.7,524.6 793.2,538.5 799.8,547.5 806.3,549.2 812.9,556.0 819.4,555.0 826.0,553.9 832.5,548.6 839.1,551.3 845.6,555.0 852.2,557.7 858.7,558.8 865.3,554.1 871.8,539.2 878.4,526.8 884.9,516.1 891.5,513.3 898.0,514.2 904.6,506.5 911.1,506.9 917.7,507.8 924.2,498.4 930.8,497.7 937.3,485.1 943.9,482.5 950.4,503.7 957.0,490.7 963.5,489.0 970.1,480.8 976.6,483.4 983.2,481.3 989.7,480.2 996.3,468.7 1002.8,477.0 1009.4,483.0 1015.9,486.2 1022.5,483.6 1029.0,494.7 1035.6,495.4 1042.1,497.5 1048.7,496.6 1055.2,494.5 1061.8,515.4 1068.3,515.2 1074.9,515.7 1081.4,513.1 1088.0,531.9 1094.5,528.9 1101.1,526.6 1107.6,526.8 1114.2,548.1 1120.7,548.1 1127.3,546.4 1133.8,550.3 1140.4,538.7 1146.9,538.5 1153.5,531.0 1160.0,504.3 1166.6,489.4 1173.1,490.4 1179.7,489.4 1186.2,500.1 1192.8,520.4 1199.3,531.0 1205.9,525.5 1212.4,526.3 1219.0,517.8 1225.5,494.7 1232.1,513.9 1238.6,527.0 1245.2,526.8 1251.7,523.1 1258.3,531.0 1264.8,524.4 1271.4,529.8 1277.9,516.5 1284.5,511.8 1291.0,506.0 1297.6,501.8 1304.1,513.1 1310.7,519.5 1317.2,521.4 1323.8,513.3 1330.4,523.1 1336.9,525.3 1343.5,538.3 1350.0,532.1 1356.6,531.7 1363.1,528.9" fill="none" stroke="#7E57C2" stroke-width="1.3" stroke-linejoin="round"/>
</g>
<g stroke="#E0E3EB" fill="none">
<rect x="13" y="13" width="1501" height="622" stroke-width="1.6" stroke="#E4E6EE"/>
<line x1="13" y1="339.6" x2="1514" y2="339.6" stroke-width="1.3"/>
<line x1="13" y1="453.2" x2="1514" y2="453.2" stroke-width="1.3"/>
<line x1="1422.5" y1="14" x2="1422.5" y2="600" stroke-width="1" stroke="#F1F2F3" shape-rendering="crispEdges"/>
</g>
<g clip-path="url(#cpAx1)">
<text transform="matrix(1 0 0.0006 1 0 0)" x="1442" y="19.0" font-family="Liberation Sans, sans-serif" font-size="15.6" fill="#131722" textLength="53.8" lengthAdjust="spacingAndGlyphs" >1.08000</text>
<text transform="matrix(1 0 0.0006 1 0 0)" x="1442" y="70.8" font-family="Liberation Sans, sans-serif" font-size="15.6" fill="#131722" textLength="53.8" lengthAdjust="spacingAndGlyphs" >1.07000</text>
<text transform="matrix(1 0 0.0006 1 0 0)" x="1442" y="122.8" font-family="Liberation Sans, sans-serif" font-size="15.6" fill="#131722" textLength="53.8" lengthAdjust="spacingAndGlyphs" >1.06000</text>
<text transform="matrix(1 0 0.0006 1 0 0)" x="1442" y="173.9" font-family="Liberation Sans, sans-serif" font-size="15.6" fill="#131722" textLength="53.8" lengthAdjust="spacingAndGlyphs" >1.05000</text>
<text transform="matrix(1 0 0.0006 1 0 0)" x="1442" y="226.8" font-family="Liberation Sans, sans-serif" font-size="15.6" fill="#131722" textLength="53.8" lengthAdjust="spacingAndGlyphs" >1.04000</text>
<text transform="matrix(1 0 0.0006 1 0 0)" x="1442" y="277.8" font-family="Liberation Sans, sans-serif" font-size="15.6" fill="#131722" textLength="53.8" lengthAdjust="spacingAndGlyphs" >1.03000</text>
<text transform="matrix(1 0 0.0006 1 0 0)" x="1442" y="329.8" font-family="Liberation Sans, sans-serif" font-size="15.6" fill="#131722" textLength="53.8" lengthAdjust="spacingAndGlyphs" >1.02000</text>
</g>
<g clip-path="url(#cpAx2)">
<text transform="matrix(1 0 0.0006 1 0 0)" x="1442.3" y="346.8" font-family="Liberation Sans, sans-serif" font-size="15.6" fill="#131722" textLength="53.2" lengthAdjust="spacingAndGlyphs" >0.02000</text>
<text transform="matrix(1 0 0.0006 1 0 0)" x="1442.3" y="396.8" font-family="Liberation Sans, sans-serif" font-size="15.6" fill="#131722" textLength="53.2" lengthAdjust="spacingAndGlyphs" >0.00000</text>
<text transform="matrix(1 0 0.0006 1 0 0)" x="1442.3" y="445.8" font-family="Liberation Sans, sans-serif" font-size="15.6" fill="#131722" textLength="62" lengthAdjust="spacingAndGlyphs" >−0.02000</text>
</g>
<g clip-path="url(#cpAx3)">
<text transform="matrix(1 0 0.0006 1 0 0)" x="1442" y="473.1" font-family="Liberation Sans, sans-serif" font-size="15.6" fill="#131722" textLength="38" lengthAdjust="spacingAndGlyphs" >80.00</text>
<text transform="matrix(1 0 0.0006 1 0 0)" x="1442" y="513.8" font-family="Liberation Sans, sans-serif" font-size="15.6" fill="#131722" textLength="38" lengthAdjust="spacingAndGlyphs" >60.00</text>
<text transform="matrix(1 0 0.0006 1 0 0)" x="1442" y="554.3" font-family="Liberation Sans, sans-serif" font-size="15.6" fill="#131722" textLength="38" lengthAdjust="spacingAndGlyphs" >40.00</text>
<text transform="matrix(1 0 0.0006 1 0 0)" x="1442" y="594.0" font-family="Liberation Sans, sans-serif" font-size="15.6" fill="#131722" textLength="38" lengthAdjust="spacingAndGlyphs" >20.00</text>
</g>
<path d="M1432,169 H1500.5 Q1503,169 1503,171.5 V187.5 Q1503,190 1500.5,190 H1432 Z" fill="#089981"/>
<text transform="matrix(1 0 0.0006 1 0 0)" x="1442" y="184.9" font-family="Liberation Sans, sans-serif" font-size="15.6" fill="#fff" textLength="53" lengthAdjust="spacingAndGlyphs" >1.04801</text>
<path d="M1432,391 H1508.5 Q1511,391 1511,393.5 V409.5 Q1511,412 1508.5,412 H1432 Z" fill="#2196F3"/>
<text transform="matrix(1 0 0.0006 1 0 0)" x="1442.3" y="406.8" font-family="Liberation Sans, sans-serif" font-size="15.6" fill="#fff" textLength="61.5" lengthAdjust="spacingAndGlyphs" >−0.00402</text>
<path d="M1432,519 H1484.2 Q1486.7,519 1486.7,521.5 V537.3 Q1486.7,539.8 1484.2,539.8 H1432 Z" fill="#7E57C2"/>
<text transform="matrix(1 0 0.0006 1 0 0)" x="1442" y="534.9" font-family="Liberation Sans, sans-serif" font-size="15.6" fill="#fff" textLength="38" lengthAdjust="spacingAndGlyphs" >49.60</text>
<text transform="matrix(1 0 0.0006 1 0 0)" x="22.80" y="37.5" font-family="Liberation Sans, sans-serif" font-size="15.6" fill="#131722" textLength="60.24" lengthAdjust="spacingAndGlyphs" >EUR/USD</text>
<text transform="matrix(1 0 0.0006 1 0 0)" x="87.82" y="37.5" font-family="Liberation Sans, sans-serif" font-size="15.6" fill="#131722" textLength="34.82" lengthAdjust="spacingAndGlyphs" >Spot,</text>
<text transform="matrix(1 0 0.0006 1 0 0)" x="127.15" y="37.5" font-family="Liberation Sans, sans-serif" font-size="15.6" fill="#131722" textLength="16.94" lengthAdjust="spacingAndGlyphs" >4h</text>
<text transform="matrix(1 0 0.0006 1 0 0)" x="152.39" y="37.5" font-family="Liberation Sans, sans-serif" font-size="15.6" fill="#131722" textLength="11.74" lengthAdjust="spacingAndGlyphs" >O</text>
<text transform="matrix(1 0 0.0006 1 0 0)" x="164.31" y="37.5" font-family="Liberation Sans, sans-serif" font-size="15.6" fill="#089981" textLength="51.56" lengthAdjust="spacingAndGlyphs" >1.04759</text>
<text transform="matrix(1 0 0.0006 1 0 0)" x="224.35" y="37.5" font-family="Liberation Sans, sans-serif" font-size="15.6" fill="#131722" textLength="10.08" lengthAdjust="spacingAndGlyphs" >H</text>
<text transform="matrix(1 0 0.0006 1 0 0)" x="234.69" y="37.5" font-family="Liberation Sans, sans-serif" font-size="15.6" fill="#089981" textLength="52.75" lengthAdjust="spacingAndGlyphs" >1.04806</text>
<text transform="matrix(1 0 0.0006 1 0 0)" x="295.69" y="37.5" font-family="Liberation Sans, sans-serif" font-size="15.6" fill="#131722" textLength="8.20" lengthAdjust="spacingAndGlyphs" >L</text>
<text transform="matrix(1 0 0.0006 1 0 0)" x="304.51" y="37.5" font-family="Liberation Sans, sans-serif" font-size="15.6" fill="#089981" textLength="51.82" lengthAdjust="spacingAndGlyphs" >1.04733</text>
<text transform="matrix(1 0 0.0006 1 0 0)" x="365.24" y="37.5" font-family="Liberation Sans, sans-serif" font-size="15.6" fill="#131722" textLength="9.35" lengthAdjust="spacingAndGlyphs" >C</text>
<text transform="matrix(1 0 0.0006 1 0 0)" x="375.22" y="37.5" font-family="Liberation Sans, sans-serif" font-size="15.6" fill="#089981" textLength="51.07" lengthAdjust="spacingAndGlyphs" >1.04801</text>
<text transform="matrix(1 0 0.0006 1 0 0)" x="436.19" y="37.5" font-family="Liberation Sans, sans-serif" font-size="15.6" fill="#089981" textLength="60.84" lengthAdjust="spacingAndGlyphs" >+0.00042</text>
<text transform="matrix(1 0 0.0006 1 0 0)" x="501.53" y="37.5" font-family="Liberation Sans, sans-serif" font-size="15.6" fill="#089981" textLength="57.24" lengthAdjust="spacingAndGlyphs" >(+0.04%)</text>
<text transform="matrix(1 0 0.0006 1 0 0)" x="22.41" y="59.2" font-family="Liberation Sans, sans-serif" font-size="15.6" fill="#131722" textLength="20.02" lengthAdjust="spacingAndGlyphs" >MA</text>
<text transform="matrix(1 0 0.0006 1 0 0)" x="47.34" y="59.2" font-family="Liberation Sans, sans-serif" font-size="15.6" fill="#131722" textLength="26.54" lengthAdjust="spacingAndGlyphs" >(20,</text>
<text transform="matrix(1 0 0.0006 1 0 0)" x="77.74" y="59.2" font-family="Liberation Sans, sans-serif" font-size="15.6" fill="#131722" textLength="40.66" lengthAdjust="spacingAndGlyphs" >close,</text>
<text transform="matrix(1 0 0.0006 1 0 0)" x="121.76" y="59.2" font-family="Liberation Sans, sans-serif" font-size="15.6" fill="#131722" textLength="14.55" lengthAdjust="spacingAndGlyphs" >0)</text>
<text transform="matrix(1 0 0.0006 1 0 0)" x="22.41" y="79.8" font-family="Liberation Sans, sans-serif" font-size="15.6" fill="#131722" textLength="20.02" lengthAdjust="spacingAndGlyphs" >MA</text>
<text transform="matrix(1 0 0.0006 1 0 0)" x="47.36" y="79.8" font-family="Liberation Sans, sans-serif" font-size="15.6" fill="#131722" textLength="34.71" lengthAdjust="spacingAndGlyphs" >(100,</text>
<text transform="matrix(1 0 0.0006 1 0 0)" x="85.94" y="79.8" font-family="Liberation Sans, sans-serif" font-size="15.6" fill="#131722" textLength="40.76" lengthAdjust="spacingAndGlyphs" >close,</text>
<text transform="matrix(1 0 0.0006 1 0 0)" x="130.17" y="79.8" font-family="Liberation Sans, sans-serif" font-size="15.6" fill="#131722" textLength="14.44" lengthAdjust="spacingAndGlyphs" >0)</text>
<text transform="matrix(1 0 0.0006 1 0 0)" x="22.41" y="100.9" font-family="Liberation Sans, sans-serif" font-size="15.6" fill="#131722" textLength="20.02" lengthAdjust="spacingAndGlyphs" >MA</text>
<text transform="matrix(1 0 0.0006 1 0 0)" x="47.36" y="100.9" font-family="Liberation Sans, sans-serif" font-size="15.6" fill="#131722" textLength="34.71" lengthAdjust="spacingAndGlyphs" >(200,</text>
<text transform="matrix(1 0 0.0006 1 0 0)" x="85.94" y="100.9" font-family="Liberation Sans, sans-serif" font-size="15.6" fill="#131722" textLength="40.76" lengthAdjust="spacingAndGlyphs" >close,</text>
<text transform="matrix(1 0 0.0006 1 0 0)" x="130.17" y="100.9" font-family="Liberation Sans, sans-serif" font-size="15.6" fill="#131722" textLength="14.44" lengthAdjust="spacingAndGlyphs" >0)</text>
<text transform="matrix(1 0 0.0006 1 0 0)" x="22.41" y="121.7" font-family="Liberation Sans, sans-serif" font-size="15.6" fill="#131722" textLength="20.02" lengthAdjust="spacingAndGlyphs" >MA</text>
<text transform="matrix(1 0 0.0006 1 0 0)" x="47.34" y="121.7" font-family="Liberation Sans, sans-serif" font-size="15.6" fill="#131722" textLength="26.54" lengthAdjust="spacingAndGlyphs" >(55,</text>
<text transform="matrix(1 0 0.0006 1 0 0)" x="77.74" y="121.7" font-family="Liberation Sans, sans-serif" font-size="15.6" fill="#131722" textLength="40.66" lengthAdjust="spacingAndGlyphs" >close,</text>
<text transform="matrix(1 0 0.0006 1 0 0)" x="121.76" y="121.7" font-family="Liberation Sans, sans-serif" font-size="15.6" fill="#131722" textLength="14.55" lengthAdjust="spacingAndGlyphs" >0)</text>
<text transform="matrix(1 0 0.0006 1 0 0)" x="22.11" y="364.7" font-family="Liberation Sans, sans-serif" font-size="15.6" fill="#131722" textLength="32.14" lengthAdjust="spacingAndGlyphs" >Mom</text>
<text transform="matrix(1 0 0.0006 1 0 0)" x="59.09" y="364.7" font-family="Liberation Sans, sans-serif" font-size="15.6" fill="#131722" textLength="25.22" lengthAdjust="spacingAndGlyphs" >(10,</text>
<text transform="matrix(1 0 0.0006 1 0 0)" x="89.76" y="364.7" font-family="Liberation Sans, sans-serif" font-size="15.6" fill="#131722" textLength="39.97" lengthAdjust="spacingAndGlyphs" >close)</text>
<text transform="matrix(1 0 0.0006 1 0 0)" x="138.89" y="364.7" font-family="Liberation Sans, sans-serif" font-size="15.6" fill="#2196F3" textLength="60.64" lengthAdjust="spacingAndGlyphs" >−0.00402</text>
<text transform="matrix(1 0 0.0006 1 0 0)" x="22.46" y="478.9" font-family="Liberation Sans, sans-serif" font-size="15.6" fill="#131722" textLength="21.22" lengthAdjust="spacingAndGlyphs" >RSI</text>
<text transform="matrix(1 0 0.0006 1 0 0)" x="48.18" y="478.9" font-family="Liberation Sans, sans-serif" font-size="15.6" fill="#131722" textLength="26.44" lengthAdjust="spacingAndGlyphs" >(14)</text>
<text transform="matrix(1 0 0.0006 1 0 0)" x="83.36" y="478.9" font-family="Liberation Sans, sans-serif" font-size="15.6" fill="#7E57C2" textLength="37.22" lengthAdjust="spacingAndGlyphs" >49.60</text>
<g clip-path="url(#cpTime)">
<text transform="matrix(1 0 0.0006 1 0 0)" x="116.78" y="623" font-family="Liberation Sans, sans-serif" font-size="15.6" fill="#131722" textLength="16.37" lengthAdjust="spacingAndGlyphs" >16</text>
<text transform="matrix(1 0 0.0006 1 0 0)" x="241.51" y="623" font-family="Liberation Sans, sans-serif" font-size="15.6" fill="#131722" textLength="15.37" lengthAdjust="spacingAndGlyphs" >21</text>
<text transform="matrix(1 0 0.0006 1 0 0)" x="359.19" y="623" font-family="Liberation Sans, sans-serif" font-size="15.6" fill="#131722" textLength="15.73" lengthAdjust="spacingAndGlyphs" >24</text>
<text transform="matrix(1 0 0.0006 1 0 0)" x="483.48" y="623" font-family="Liberation Sans, sans-serif" font-size="15.6" fill="#131722" textLength="16.01" lengthAdjust="spacingAndGlyphs" >29</text>
<text transform="matrix(1 0 0.0006 1 0 0)" x="596.94" y="623" font-family="Liberation Sans, sans-serif" font-size="15.6" fill="#131722" textLength="25.44" lengthAdjust="spacingAndGlyphs" font-weight="bold" >Feb</text>
<text transform="matrix(1 0 0.0006 1 0 0)" x="729.91" y="623" font-family="Liberation Sans, sans-serif" font-size="15.6" fill="#131722" textLength="8.68" lengthAdjust="spacingAndGlyphs" >6</text>
<text transform="matrix(1 0 0.0006 1 0 0)" x="851.28" y="623" font-family="Liberation Sans, sans-serif" font-size="15.6" fill="#131722" textLength="14.87" lengthAdjust="spacingAndGlyphs" >11</text>
<text transform="matrix(1 0 0.0006 1 0 0)" x="968.92" y="623" font-family="Liberation Sans, sans-serif" font-size="15.6" fill="#131722" textLength="15.80" lengthAdjust="spacingAndGlyphs" >14</text>
<text transform="matrix(1 0 0.0006 1 0 0)" x="1093.28" y="623" font-family="Liberation Sans, sans-serif" font-size="15.6" fill="#131722" textLength="16.42" lengthAdjust="spacingAndGlyphs" >19</text>
<text transform="matrix(1 0 0.0006 1 0 0)" x="1210.55" y="623" font-family="Liberation Sans, sans-serif" font-size="15.6" fill="#131722" textLength="16.50" lengthAdjust="spacingAndGlyphs" >23</text>
<text transform="matrix(1 0 0.0006 1 0 0)" x="1408.84" y="623" font-family="Liberation Sans, sans-serif" font-size="15.6" fill="#131722" textLength="25.58" lengthAdjust="spacingAndGlyphs" font-weight="bold" >Mar</text>
</g>
<g fill="#131722">
<path d="M13.1,651 H22.9 V662.8 H17.9 V655.7 H13.1 Z"/>
<circle cx="26.6" cy="653.4" r="2.4"/>
<path d="M31.2,651 H37.2 L33,662.8 H27 Z"/>
</g>
<text transform="matrix(1 0 0.0006 1 0 0)" x="41.75" y="662.6" font-family="Liberation Sans, sans-serif" font-size="15.0" fill="#131722" textLength="87.82" lengthAdjust="spacingAndGlyphs" >TradingView</text>
</svg>
</body></html>
